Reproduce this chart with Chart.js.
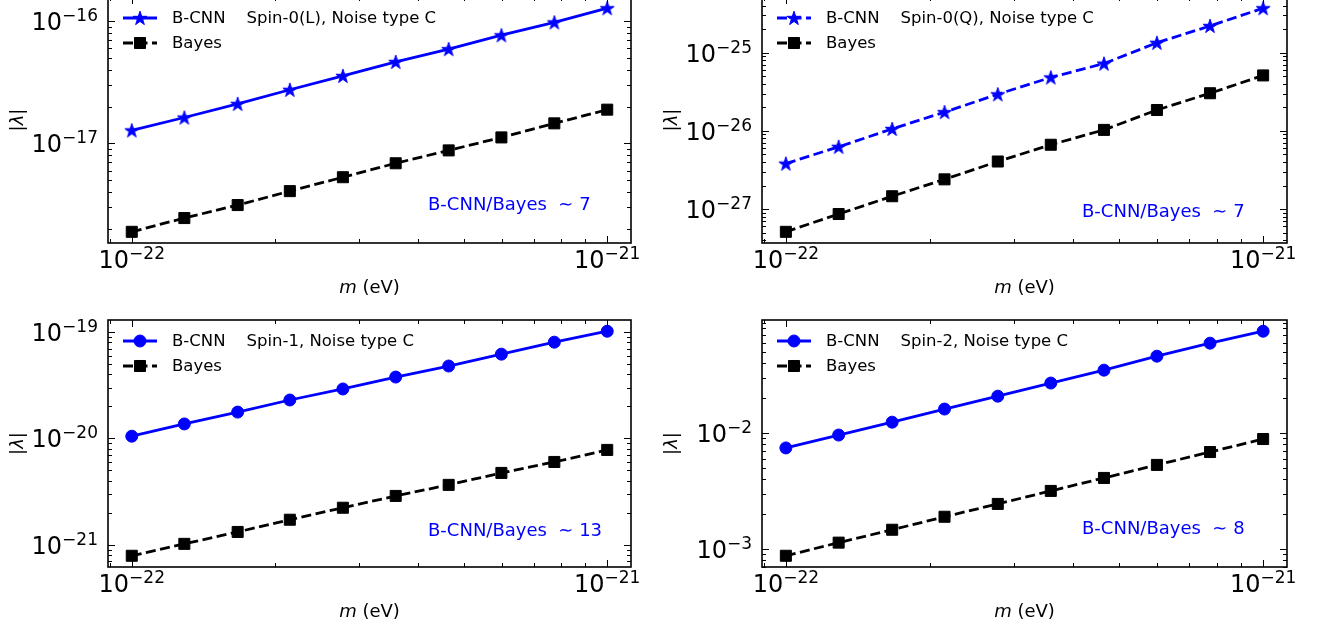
<!DOCTYPE html>
<html>
<head>
<meta charset="utf-8">
<script src="https://cdn.jsdelivr.net/npm/chart.js@4.4.1/dist/chart.umd.min.js"></script>
<style>
  html, body { margin: 0; padding: 0; background: #fff; width: 1324px; height: 625px; overflow: hidden; }
  .panel { position: absolute; }
</style>
</head>
<body>
<div class="panel"><canvas id="c0"></canvas></div>
<div class="panel"><canvas id="c1"></canvas></div>
<div class="panel"><canvas id="c2"></canvas></div>
<div class="panel"><canvas id="c3"></canvas></div>
<script>
// m (eV), shared by all four panels
const mass = [1.00e-22, 1.29e-22, 1.67e-22, 2.15e-22, 2.78e-22, 3.59e-22, 4.64e-22, 5.99e-22, 7.74e-22, 1.00e-21];

// |lambda|
const cnnSpin0L   = [1.28e-17, 1.63e-17, 2.11e-17, 2.75e-17, 3.57e-17, 4.65e-17, 5.92e-17, 7.69e-17, 9.80e-17, 1.28e-16];
const bayesSpin0L = [1.89e-18, 2.45e-18, 3.13e-18, 4.07e-18, 5.29e-18, 6.88e-18, 8.77e-18, 1.12e-17, 1.46e-17, 1.89e-17];

const cnnSpin0Q   = [3.82e-27, 6.26e-27, 1.06e-26, 1.74e-26, 2.94e-26, 4.83e-26, 7.26e-26, 1.34e-25, 2.20e-25, 3.71e-25];
const bayesSpin0Q = [5.12e-28, 8.65e-28, 1.46e-27, 2.40e-27, 4.06e-27, 6.65e-27, 1.03e-26, 1.85e-26, 3.03e-26, 5.12e-26];

const cnnSpin1    = [1.05e-20, 1.37e-20, 1.77e-20, 2.30e-20, 2.92e-20, 3.78e-20, 4.80e-20, 6.21e-20, 8.05e-20, 1.02e-19];
const bayesSpin1  = [7.88e-22, 1.02e-21, 1.32e-21, 1.72e-21, 2.23e-21, 2.88e-21, 3.66e-21, 4.74e-21, 6.01e-21, 7.80e-21];

const cnnSpin2    = [7.43e-3, 9.60e-3, 1.24e-2, 1.61e-2, 2.08e-2, 2.70e-2, 3.49e-2, 4.61e-2, 5.97e-2, 7.57e-2];
const bayesSpin2  = [8.70e-4, 1.13e-3, 1.46e-3, 1.89e-3, 2.44e-3, 3.16e-3, 4.09e-3, 5.30e-3, 6.85e-3, 8.87e-3];

const panelTags = ['Spin-0(L), Noise type C', 'Spin-0(Q), Noise type C', 'Spin-1, Noise type C', 'Spin-2, Noise type C'];
const ratios = ['7', '7', '13', '8'];

const BLUE = '#0000ff';
const FONT = '"DejaVu Sans"';

// filled 5-point star like matplotlib '*'
const starImg = (() => {
  const c = document.createElement('canvas');
  c.width = 18; c.height = 18;
  const g = c.getContext('2d');
  g.beginPath();
  for (let i = 0; i < 10; i++) {
    const r = i % 2 ? 7.4 * 0.382 : 7.4;
    const ang = -Math.PI / 2 + i * Math.PI / 5;
    const px = 9 + r * Math.cos(ang), py = 9.6 + r * Math.sin(ang);
    if (i) g.lineTo(px, py); else g.moveTo(px, py);
  }
  g.closePath();
  g.fillStyle = BLUE; g.fill();
  g.strokeStyle = BLUE; g.lineWidth = 1; g.stroke();
  return c;
})();

// plot boxes [left, top, right, bottom] in page pixels
const panels = [
  { id: 'c0', box: [108, -3, 631, 243], cnn: cnnSpin0L, bayes: bayesSpin0L, marker: starImg, solid: true,  noteY: 38 },
  { id: 'c1', box: [762, -3, 1287, 243], cnn: cnnSpin0Q, bayes: bayesSpin0Q, marker: starImg, solid: false, noteY: 31 },
  { id: 'c2', box: [108, 320, 631, 567], cnn: cnnSpin1, bayes: bayesSpin1, marker: 'circle', solid: true, noteY: 36 },
  { id: 'c3', box: [762, 320, 1287, 567], cnn: cnnSpin2, bayes: bayesSpin2, marker: 'circle', solid: true, noteY: 38 }
];
const PAD = { left: 108, top: 24, right: 32, bottom: 70 };
const DASH = [10, 4.5];

function logLimits(arrs) {
  let lo = Infinity, hi = -Infinity;
  arrs.forEach(a => a.forEach(v => {
    lo = Math.min(lo, Math.log10(v));
    hi = Math.max(hi, Math.log10(v));
  }));
  const d = (hi - lo) * 0.05;
  return { min: Math.pow(10, lo - d), max: Math.pow(10, hi + d) };
}

function logTicks(scale) {
  const out = [];
  const lo = Math.floor(Math.log10(scale.min)), hi = Math.ceil(Math.log10(scale.max));
  for (let k = lo; k <= hi; k++) {
    for (let j = 1; j <= 9; j++) {
      const v = j * Math.pow(10, k);
      if (v >= scale.min && v <= scale.max) out.push({ v, k, major: j === 1 });
    }
  }
  return out;
}

// "10" with a raised exponent, like mathtext
function sci(ctx, k, x, y, align) {
  const main = '10';
  const exp = (k < 0 ? '\u2212' : '') + Math.abs(k);
  ctx.font = '24px ' + FONT;
  const w1 = ctx.measureText(main).width;
  ctx.font = '17px ' + FONT;
  const w2 = ctx.measureText(exp).width;
  const x0 = align === 'center' ? x - (w1 + w2) / 2 : x - (w1 + w2);
  ctx.textAlign = 'left';
  ctx.textBaseline = 'alphabetic';
  ctx.font = '24px ' + FONT;
  ctx.fillText(main, x0, y);
  ctx.font = '17px ' + FONT;
  ctx.fillText(exp, x0 + w1, y - 9);
}

function mixedText(ctx, parts, cx, cy) {
  let total = 0;
  parts.forEach(p => { ctx.font = p.font; total += ctx.measureText(p.t).width; });
  let x = cx - total / 2;
  ctx.textAlign = 'left';
  ctx.textBaseline = 'middle';
  parts.forEach(p => { ctx.font = p.font; ctx.fillText(p.t, x, cy); x += ctx.measureText(p.t).width; });
}

const axesPlus = {
  id: 'axesPlus',
  afterDatasetsDraw(chart, args, opts) {
    const { ctx, chartArea: a } = chart;
    const xs = chart.scales.x, ys = chart.scales.y;
    ctx.save();

    // inward ticks on all four sides
    ctx.strokeStyle = '#000';
    ctx.lineWidth = 1;
    ctx.beginPath();
    logTicks(xs).forEach(t => {
      const p = Math.round(xs.getPixelForValue(t.v)) + 0.5, len = t.major ? 7 : 4;
      ctx.moveTo(p, a.bottom); ctx.lineTo(p, a.bottom - len);
      ctx.moveTo(p, a.top); ctx.lineTo(p, a.top + len);
    });
    logTicks(ys).forEach(t => {
      const p = Math.round(ys.getPixelForValue(t.v)) + 0.5, len = t.major ? 7 : 4;
      ctx.moveTo(a.left, p); ctx.lineTo(a.left + len, p);
      ctx.moveTo(a.right, p); ctx.lineTo(a.right - len, p);
    });
    ctx.stroke();

    ctx.lineWidth = 1.6;
    ctx.strokeRect(a.left, a.top, a.right - a.left, a.bottom - a.top);

    // tick labels
    ctx.fillStyle = '#000';
    logTicks(xs).filter(t => t.major).forEach(t => sci(ctx, t.k, xs.getPixelForValue(t.v), a.bottom + 25, 'center'));
    logTicks(ys).filter(t => t.major).forEach(t => sci(ctx, t.k, a.left - 10, ys.getPixelForValue(t.v) + 9, 'right'));

    // axis titles
    mixedText(ctx, [
      { t: 'm', font: 'italic 18px ' + FONT },
      { t: ' (eV)', font: '18px ' + FONT }
    ], (a.left + a.right) / 2, a.bottom + 45);
    ctx.save();
    ctx.translate(a.left - 90, (a.top + a.bottom) / 2);
    ctx.rotate(-Math.PI / 2);
    mixedText(ctx, [
      { t: '|', font: '18px ' + FONT },
      { t: '\u03BB', font: 'italic 18px ' + FONT },
      { t: '|', font: '18px ' + FONT }
    ], 0, 0);
    ctx.restore();

    // legend
    chart.data.datasets.forEach((ds, i) => {
      const ly = a.top + 21 + 25 * i;
      ctx.save();
      ctx.strokeStyle = ds.borderColor;
      ctx.lineWidth = ds.borderWidth;
      ctx.setLineDash(ds.borderDash || []);
      ctx.beginPath();
      ctx.moveTo(a.left + 15, ly); ctx.lineTo(a.left + 49, ly);
      ctx.stroke();
      ctx.setLineDash([]);
      ctx.fillStyle = ds.pointBackgroundColor;
      ctx.strokeStyle = ds.pointBorderColor;
      ctx.lineWidth = ds.pointBorderWidth;
      Chart.helpers.drawPoint(ctx, { pointStyle: ds.pointStyle, radius: ds.pointRadius, rotation: 0, borderWidth: ds.pointBorderWidth }, a.left + 32, ly);
      ctx.restore();
      ctx.fillStyle = '#000';
      ctx.font = '16.5px ' + FONT;
      ctx.textAlign = 'left';
      ctx.textBaseline = 'middle';
      ctx.fillText(ds.label, a.left + 64, ly + 1);
    });

    // ratio note
    ctx.fillStyle = BLUE;
    ctx.font = '18px ' + FONT;
    ctx.textAlign = 'left';
    ctx.textBaseline = 'middle';
    ctx.fillText('B-CNN/Bayes  \u223C ' + opts.ratio, a.left + 320, a.bottom - opts.noteY);

    ctx.restore();
  }
};

panels.forEach((p, n) => {
  const [l, t, r, b] = p.box;
  const canvas = document.getElementById(p.id);
  const w = r - l + PAD.left + PAD.right, h = b - t + PAD.top + PAD.bottom;
  canvas.width = w; canvas.height = h;
  canvas.style.width = w + 'px'; canvas.style.height = h + 'px';
  const holder = canvas.parentNode;
  holder.style.left = (l - PAD.left) + 'px';
  holder.style.top = (t - PAD.top) + 'px';

  const xl = logLimits([mass]);
  const yl = logLimits([p.cnn, p.bayes]);

  new Chart(canvas, {
    type: 'line',
    data: {
      datasets: [{
        label: 'B-CNN    ' + panelTags[n],
        data: mass.map((m, i) => ({ x: m, y: p.cnn[i] })),
        borderColor: BLUE,
        backgroundColor: BLUE,
        borderWidth: 2.8,
        borderDash: p.solid ? [] : DASH,
        pointStyle: p.marker,
        pointRadius: 6,
        pointBorderWidth: 1,
        pointBackgroundColor: BLUE,
        pointBorderColor: BLUE,
        tension: 0
      }, {
        label: 'Bayes',
        data: mass.map((m, i) => ({ x: m, y: p.bayes[i] })),
        borderColor: '#000',
        backgroundColor: '#000',
        borderWidth: 2.8,
        borderDash: DASH,
        pointStyle: 'rect',
        pointRadius: 7.8,
        pointBorderWidth: 1,
        pointBackgroundColor: '#000',
        pointBorderColor: '#000',
        tension: 0
      }]
    },
    options: {
      responsive: false,
      animation: false,
      events: [],
      layout: { padding: PAD },
      plugins: {
        legend: { display: false },
        tooltip: { enabled: false },
        axesPlus: { ratio: ratios[n], noteY: p.noteY }
      },
      scales: {
        x: { type: 'logarithmic', display: false, bounds: 'data', min: xl.min, max: xl.max },
        y: { type: 'logarithmic', display: false, bounds: 'data', min: yl.min, max: yl.max }
      }
    },
    plugins: [axesPlus]
  });
});
</script>
</body>
</html>
